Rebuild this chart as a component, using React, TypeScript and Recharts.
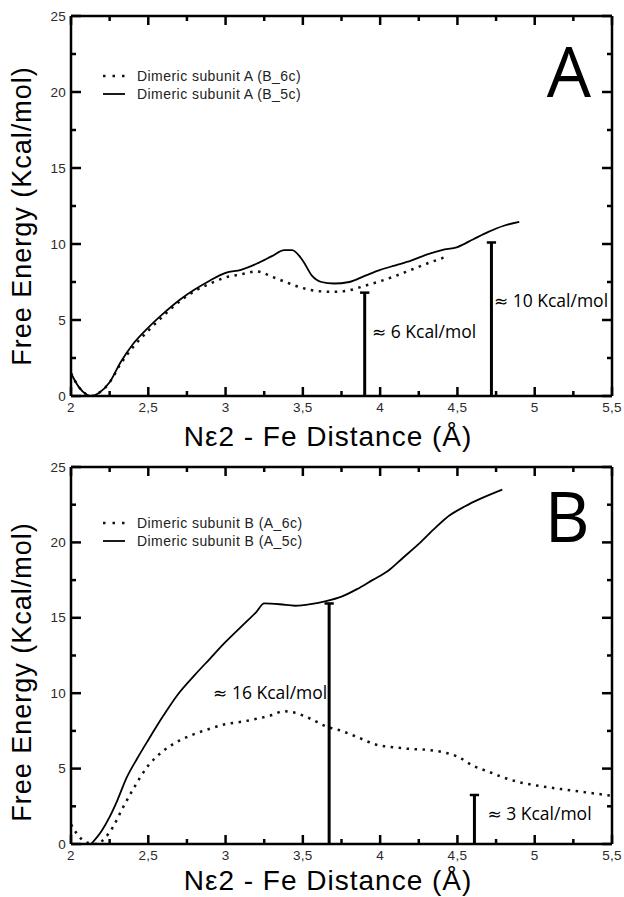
import React from 'react';
import { ComposedChart, Line, XAxis, YAxis, ReferenceLine, ReferenceDot } from 'recharts';

// ---------- data ----------
const xTicks = [2, 2.25, 2.5, 2.75, 3, 3.25, 3.5, 3.75, 4, 4.25, 4.5, 4.75, 5, 5.25, 5.5];
const yTicks = [0, 2.5, 5, 7.5, 10, 12.5, 15, 17.5, 20, 22.5, 25];

// Panel A
const aDottedX = [2.0, 2.05, 2.1, 2.13, 2.18, 2.25, 2.32, 2.4, 2.5, 2.6, 2.7, 2.8, 2.9, 3.0, 3.1, 3.2, 3.3, 3.4, 3.5, 3.6, 3.7, 3.8, 3.9, 4.0, 4.1, 4.2, 4.3, 4.41];
const aDottedY = [1.5, 0.6, 0.1, 0.0, 0.2, 0.9, 2.1, 3.2, 4.3, 5.3, 6.2, 6.9, 7.4, 7.8, 8.0, 8.2, 7.85, 7.45, 7.1, 6.9, 6.85, 6.95, 7.25, 7.55, 7.9, 8.3, 8.7, 9.1];
const aSolidX = [2.0, 2.05, 2.1, 2.13, 2.18, 2.25, 2.32, 2.4, 2.5, 2.6, 2.7, 2.8, 2.9, 3.0, 3.1, 3.2, 3.3, 3.38, 3.43, 3.5, 3.56, 3.62, 3.7, 3.8, 3.9, 4.0, 4.1, 4.2, 4.3, 4.4, 4.5, 4.6, 4.7, 4.8, 4.9];
const aSolidY = [1.5, 0.6, 0.1, 0.0, 0.2, 0.9, 2.2, 3.4, 4.5, 5.45, 6.3, 7.0, 7.6, 8.1, 8.3, 8.7, 9.2, 9.6, 9.6, 8.9, 7.9, 7.5, 7.4, 7.5, 7.9, 8.3, 8.6, 8.9, 9.3, 9.6, 9.8, 10.3, 10.8, 11.2, 11.45];
const aLegend = ['Dimeric subunit A (B_6c)', 'Dimeric subunit A (B_5c)'];
const aBarrierX = [3.9, 4.72];
const aBarrierY = [6.8, 10.1];
const aBarrierValue = ['6', '10'];
const aBarrierTextX = [3.947, 4.736];
const aBarrierTextY = [3.8, 5.85];
const aBarrierAnchor = ['start', 'start'];

// Panel B
const bDottedX = [2.0, 2.03, 2.07, 2.12, 2.17, 2.22, 2.27, 2.33, 2.4, 2.5, 2.6, 2.7, 2.8, 2.9, 3.0, 3.1, 3.2, 3.3, 3.37, 3.45, 3.55, 3.65, 3.75, 3.85, 3.97, 4.1, 4.2, 4.3, 4.4, 4.5, 4.6, 4.7, 4.8, 4.9, 5.0, 5.2, 5.35, 5.5];
const bDottedY = [1.3, 0.8, 0.3, 0.05, 0.0, 0.4, 1.1, 2.3, 3.6, 5.2, 6.2, 6.85, 7.3, 7.65, 7.95, 8.1, 8.3, 8.55, 8.8, 8.7, 8.3, 7.8, 7.5, 7.1, 6.6, 6.4, 6.3, 6.25, 6.1, 5.8, 5.2, 4.8, 4.4, 4.1, 3.9, 3.6, 3.4, 3.2];
const bSolidX = [2.13, 2.2, 2.25, 2.3, 2.36, 2.43, 2.5, 2.6, 2.69, 2.8, 2.9, 3.0, 3.1, 3.2, 3.25, 3.35, 3.45, 3.55, 3.65, 3.75, 3.85, 3.95, 4.05, 4.15, 4.25, 4.35, 4.45, 4.55, 4.65, 4.79];
const bSolidY = [0.0, 0.9, 1.8, 2.9, 4.4, 5.7, 6.9, 8.55, 9.9, 11.2, 12.3, 13.4, 14.4, 15.4, 15.95, 15.9, 15.8, 15.9, 16.1, 16.4, 16.9, 17.5, 18.1, 19.0, 19.9, 20.9, 21.8, 22.4, 22.9, 23.5];
const bLegend = ['Dimeric subunit B (A_6c)', 'Dimeric subunit B (A_5c)'];
const bBarrierX = [3.67, 4.61];
const bBarrierY = [15.95, 3.25];
const bBarrierValue = ['16', '3'];
const bBarrierTextX = [3.658, 4.694];
const bBarrierTextY = [9.6, 1.6];
const bBarrierAnchor = ['end', 'start'];

const xTitle = 'Nε2 - Fe Distance (Å)';
const yTitle = 'Free Energy (Kcal/mol)';
const unit = 'Kcal/mol';

// ---------- helpers ----------
const zip = (xs: number[], ys: number[]) => xs.map((x, i) => ({ x, y: ys[i] }));
const fmt = (v: number) => String(v).replace('.', ',');
const isMajor = (v: number, step: number) => Math.abs(v / step - Math.round(v / step)) < 1e-6;

const FONT = '"Liberation Sans", Arial, Helvetica, sans-serif';
const ANN_FONT = '"Open Sans", "DejaVu Sans", sans-serif';
const AXIS_W = 2.5;
const CAP_HALF = 0.03;

const makeXTick = (side: 'bottom' | 'top') => (props: any) => {
  const { x, y, payload } = props;
  const v = payload.value as number;
  const major = isMajor(v, 0.5);
  const len = major ? 9 : 5;
  const dir = side === 'bottom' ? -1 : 1;
  return (
    <g>
      <line x1={x} x2={x} y1={y} y2={y + dir * len} stroke="#000" strokeWidth={2.5} />
      {side === 'bottom' && major && (
        <text x={x} y={y + 16} textAnchor="middle" fontSize={13.5} letterSpacing={0.3} fill="#2a2a2a" fontFamily={FONT}>
          {fmt(v)}
        </text>
      )}
    </g>
  );
};

const makeYTick = (side: 'left' | 'right') => (props: any) => {
  const { x, y, payload } = props;
  const v = payload.value as number;
  const major = isMajor(v, 5);
  const len = major ? 10 : 5;
  const dir = side === 'left' ? 1 : -1;
  return (
    <g>
      <line x1={x} x2={x + dir * len} y1={y} y2={y} stroke="#000" strokeWidth={2.5} />
      {side === 'left' && major && (
        <text x={x - 5} y={y + 4.5} textAnchor="end" fontSize={13.5} letterSpacing={0.3} fill="#2a2a2a" fontFamily={FONT}>
          {fmt(v)}
        </text>
      )}
    </g>
  );
};

type PanelProps = {
  dotted: { x: number; y: number }[];
  solid: { x: number; y: number }[];
  legend: string[];
  barX: number[];
  barY: number[];
  barValue: string[];
  barTextX: number[];
  barTextY: number[];
  barAnchor: string[];
  letter: string;
  height: number;
  marginTop: number;
  marginBottom: number;
  yTitleCenter: number;
  xTitleBaseline: number;
  letterX: number;
  letterBaseline: number;
  legendTop: number;
};

function Panel(p: PanelProps) {
  const lt = p.legendTop;
  return (
    <ComposedChart
      width={624}
      height={p.height}
      margin={{ top: p.marginTop, right: 11, bottom: p.marginBottom, left: 11 }}
      style={{ overflow: 'visible' }}
    >
      <XAxis
        xAxisId={0}
        type="number"
        dataKey="x"
        domain={[2, 5.5]}
        ticks={xTicks}
        interval={0}
        height={30}
        tickSize={0}
        tickMargin={0}
        tickLine={false}
        axisLine={{ stroke: '#000', strokeWidth: AXIS_W }}
        tick={makeXTick('bottom')}
        allowDataOverflow
      />
      <XAxis
        xAxisId="top"
        orientation="top"
        type="number"
        dataKey="x"
        domain={[2, 5.5]}
        ticks={xTicks}
        interval={0}
        height={1}
        tickSize={0}
        tickMargin={0}
        tickLine={false}
        axisLine={{ stroke: '#000', strokeWidth: AXIS_W }}
        tick={makeXTick('top')}
        allowDataOverflow
      />
      <YAxis
        yAxisId={0}
        type="number"
        domain={[0, 25]}
        ticks={yTicks}
        interval={0}
        width={60}
        tickSize={0}
        tickMargin={0}
        tickLine={false}
        axisLine={{ stroke: '#000', strokeWidth: AXIS_W }}
        tick={makeYTick('left')}
        allowDataOverflow
      />
      <YAxis
        yAxisId="right"
        orientation="right"
        type="number"
        domain={[0, 25]}
        ticks={yTicks}
        interval={0}
        width={1}
        tickSize={0}
        tickMargin={0}
        tickLine={false}
        axisLine={{ stroke: '#000', strokeWidth: AXIS_W }}
        tick={makeYTick('right')}
        allowDataOverflow
      />
      <Line
        data={p.dotted}
        dataKey="y"
        type="monotone"
        stroke="#111"
        strokeWidth={2.5}
        strokeDasharray="2.5 5.5"
        dot={false}
        activeDot={false}
        isAnimationActive={false}
      />
      <Line
        data={p.solid}
        dataKey="y"
        type="monotone"
        stroke="#000"
        strokeWidth={1.8}
        dot={false}
        activeDot={false}
        isAnimationActive={false}
      />
      {p.barX.map((bx, i) => (
        <ReferenceLine
          key={'b' + i}
          segment={[{ x: bx, y: 0 }, { x: bx, y: p.barY[i] }]}
          stroke="#000"
          strokeWidth={3}
        />
      ))}
      {p.barX.map((bx, i) => (
        <ReferenceLine
          key={'c' + i}
          segment={[{ x: bx - CAP_HALF, y: p.barY[i] }, { x: bx + CAP_HALF, y: p.barY[i] }]}
          stroke="#000"
          strokeWidth={2.5}
        />
      ))}
      {p.barValue.map((v, i) => (
        <ReferenceDot
          key={'t' + i}
          x={p.barTextX[i]}
          y={p.barTextY[i]}
          r={0}
          fill="none"
          stroke="none"
          label={(lp: any) => (
            <text
              x={lp.viewBox.x}
              y={lp.viewBox.y}
              textAnchor={p.barAnchor[i]}
              fontSize={17.5}
              fill="#000"
              fontFamily={ANN_FONT}
            >
              <tspan fontFamily='"DejaVu Sans", sans-serif' fontSize={17}>≈</tspan>
              <tspan>{' ' + v + ' ' + unit}</tspan>
            </text>
          )}
        />
      ))}
      {/* legend */}
      <line x1={103} x2={126} y1={lt} y2={lt} stroke="#111" strokeWidth={2.5} strokeDasharray="2.5 7" />
      <line x1={103} x2={125} y1={lt + 18} y2={lt + 18} stroke="#000" strokeWidth={1.8} />
      <text x={137} y={lt + 5} fontSize={14} letterSpacing={0.45} fill="#222" fontFamily={FONT}>{p.legend[0]}</text>
      <text x={137} y={lt + 23} fontSize={14} letterSpacing={0.45} fill="#222" fontFamily={FONT}>{p.legend[1]}</text>
      {/* panel letter */}
      <text x={p.letterX} y={p.letterBaseline} textAnchor="middle" fontSize={70} fill="#000" fontFamily={ANN_FONT}>{p.letter}</text>
      {/* axis titles */}
      <text x={328} y={p.xTitleBaseline} textAnchor="middle" fontSize={28} letterSpacing={1} fill="#000" fontFamily={FONT}>{xTitle}</text>
      <text
        x={31}
        y={p.yTitleCenter}
        transform={`rotate(-90, 31, ${p.yTitleCenter})`}
        textAnchor="middle"
        fontSize={27}
        letterSpacing={1}
        fill="#000"
        fontFamily={FONT}
      >
        {yTitle}
      </text>
    </ComposedChart>
  );
}

export default function App() {
  return (
    <div style={{ position: 'absolute', left: 0, top: 0, width: 624, height: 897, background: '#fff', overflow: 'hidden' }}>
      <div style={{ position: 'absolute', left: 0, top: 0 }}>
        <Panel
          dotted={zip(aDottedX, aDottedY)}
          solid={zip(aSolidX, aSolidY)}
          legend={aLegend}
          barX={aBarrierX}
          barY={aBarrierY}
          barValue={aBarrierValue}
          barTextX={aBarrierTextX}
          barTextY={aBarrierTextY}
          barAnchor={aBarrierAnchor}
          letter="A"
          height={456}
          marginTop={15}
          marginBottom={30}
          yTitleCenter={216}
          xTitleBaseline={446}
          letterX={569}
          letterBaseline={97}
          legendTop={76}
        />
      </div>
      <div style={{ position: 'absolute', left: 0, top: 450 }}>
        <Panel
          dotted={zip(bDottedX, bDottedY)}
          solid={zip(bSolidX, bSolidY)}
          legend={bLegend}
          barX={bBarrierX}
          barY={bBarrierY}
          barValue={bBarrierValue}
          barTextX={bBarrierTextX}
          barTextY={bBarrierTextY}
          barAnchor={bBarrierAnchor}
          letter="B"
          height={447}
          marginTop={16}
          marginBottom={23}
          yTitleCenter={222}
          xTitleBaseline={440}
          letterX={567}
          letterBaseline={92}
          legendTop={73}
        />
      </div>
    </div>
  );
}
